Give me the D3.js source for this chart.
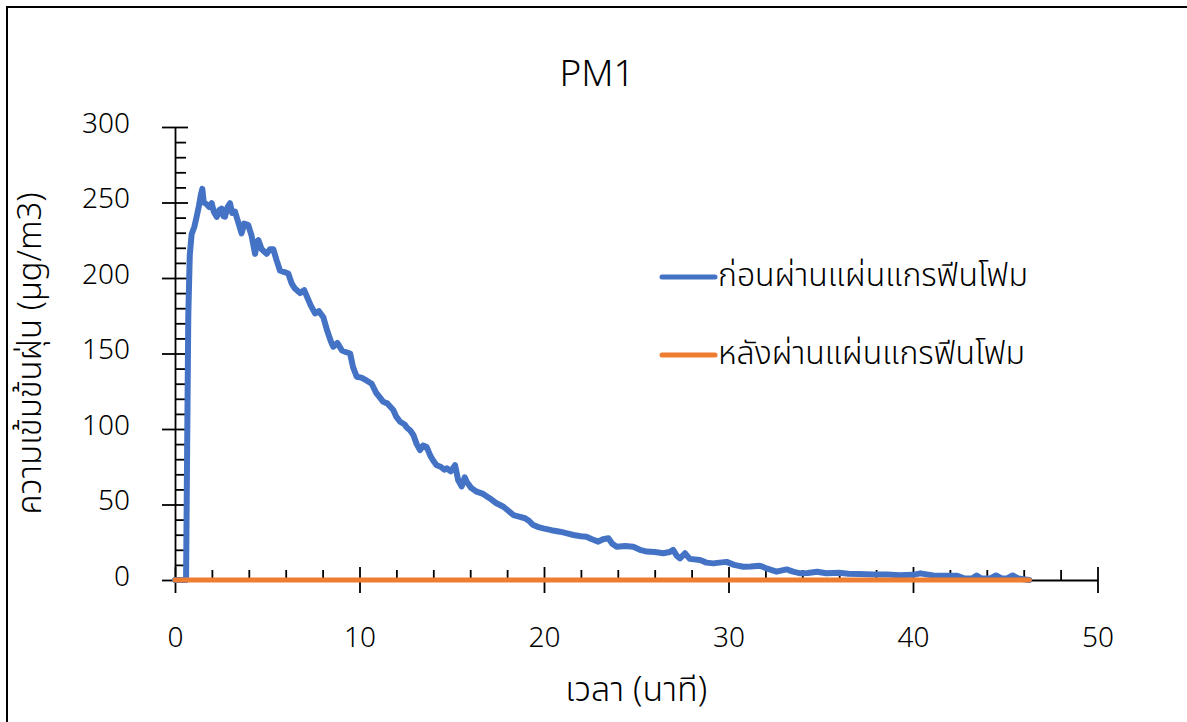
<!DOCTYPE html>
<html>
<head>
<meta charset="utf-8">
<script src="https://cdn.jsdelivr.net/npm/d3@7"></script>
<style>
  body { margin: 0; background: #fff; }
  svg text { font-family: "Leelawadee UI", Tahoma, "Noto Sans Thai", "Noto Sans", Roboto, sans-serif; fill: #000; }
</style>
</head>
<body>
<svg id="chart" width="1187" height="722"></svg>
<script>
// values
var chartTitle = 'PM1';
var xTitle = 'เวลา (นาที)';
var yTitle = 'ความเข้มข้นฝุ่น (µg/m3)';
var seriesNames = ['ก่อนผ่านแผ่นแกรฟีนโฟม', 'หลังผ่านแผ่นแกรฟีนโฟม'];

var xMajorTicks = [0, 10, 20, 30, 40, 50];
var yMajorTicks = [0, 50, 100, 150, 200, 250, 300];

// time (min) / concentration before foam
var beforeTime = [0, 0.6, 0.66, 0.72, 0.8, 0.9, 1.05, 1.18, 1.3, 1.4, 1.48, 1.56, 1.7, 1.85, 1.99, 2.1, 2.26, 2.4, 2.53, 2.62,
  2.71, 2.85, 2.98, 3.1, 3.25, 3.4, 3.61, 3.75, 3.97, 4.15, 4.34, 4.45, 4.52, 4.7, 4.97, 5.15, 5.33, 5.5, 5.69, 5.9,
  6.14, 6.32, 6.5, 6.78, 7.0, 7.14, 7.35, 7.59, 7.8, 8.04, 8.25, 8.45, 8.58, 8.8, 9.05, 9.25, 9.49, 9.65, 9.85, 10.1,
  10.4, 10.66, 10.9, 11.1, 11.29, 11.5, 11.83, 12.0, 12.2, 12.45, 12.56, 12.75, 12.92, 13.1, 13.28, 13.45, 13.64, 13.85, 14.0, 14.18,
  14.4, 14.6, 14.73, 14.95, 15.18, 15.35, 15.54, 15.7, 15.81, 16.05, 16.35, 16.7, 17.07, 17.4, 17.8, 18.05, 18.34, 18.65, 18.97, 19.2,
  19.42, 19.7, 19.96, 20.4, 20.87, 21.2, 21.6, 22.0, 22.3, 22.6, 22.94, 23.2, 23.49, 23.7, 23.94, 24.4, 24.84, 25.2, 25.57, 26.0,
  26.47, 26.8, 27.0, 27.2, 27.37, 27.64, 27.9, 28.46, 28.8, 29.18, 29.5, 29.9, 30.3, 30.8, 31.2, 31.7, 32.1, 32.6, 33.15, 33.5,
  33.9, 34.3, 34.8, 35.3, 36.0, 36.5, 37.1, 37.8, 38.6, 39.3, 40.0, 40.4, 41.1, 41.8, 42.4, 42.8, 43.2, 43.45, 43.7, 44.2,
  44.5, 44.8, 45.1, 45.4, 45.7, 46.3];
var beforeFoam = [0, 0, 90, 175, 215, 229, 234, 241, 248, 255, 259, 250, 249, 247, 249.5, 244, 240.5, 245, 246, 241,
  240.6, 247, 249.5, 243, 244, 238, 229.6, 236, 235, 228, 216, 224, 225, 219, 216, 219, 219, 212, 205, 204,
  203, 196.5, 193, 190, 192, 188, 182, 176.6, 178, 174, 165, 158, 154.5, 157, 152, 151, 150, 141, 134.6, 134,
  132, 130, 124, 121, 118, 117, 112.6, 108, 104.8, 103, 101, 99, 96, 90, 86, 89, 88, 82, 79, 76,
  75, 73, 74, 72, 76, 66, 62, 68, 65, 61, 58.5, 57, 54, 51, 48.5, 46, 43, 42, 40.9, 39,
  36.4, 35, 34.2, 33, 32, 31, 29.8, 29, 28.7, 27, 25.4, 27, 27.6, 24, 22, 22.5, 22, 20, 18.8, 18.5,
  17.7, 18.5, 19.9, 16, 14.4, 17.7, 14, 13.2, 11.5, 11, 11.5, 12, 10, 8.8, 9, 9.5, 7.5, 5.5, 7, 5.5,
  4.4, 4.6, 5.5, 4.5, 4.8, 4.2, 4, 3.6, 3.7, 3.2, 3.4, 4.4, 3, 2.8, 2.8, 1, 1, 3, 1, 1,
  3, 1, 1, 3, 1, 0];

// after foam: flat at zero over the whole run
var afterTime = [0, 46.3];
var afterFoam = [0, 0];

var seriesColors = ['#4472C4', '#ED7D31'];

//chart module
var lineChart = (function(){
    'use strict';
    var width = 1187,
        height = 722,
        plotLeft = 175,
        plotRight = 1097.5,
        plotTop = 127,
        plotBottom = 580;

    var x = d3.scaleLinear().domain([0, 50]).range([plotLeft, plotRight]);
    var y = d3.scaleLinear().domain([0, 300]).range([plotBottom, plotTop]);

    function range(a, b, step){
        return d3.range(a, b + step / 2, step);
    }

    function exports(svg){
        svg.selectAll('*').remove();

        //outer frame (only left and top edge are inside the picture)
        svg.append('path')
           .attr('d', 'M7,' + (height + 5) + 'V7H' + (width + 5))
           .attr('fill', 'none')
           .attr('stroke', '#000')
           .attr('stroke-width', 2);

        svg.append('text')
           .attr('x', 597).attr('y', 86)
           .attr('text-anchor', 'middle')
           .style('font-size', '37px')
           .style('font-weight', 300)
           .text(chartTitle);

        //x axis: minor ticks up, major ticks across
        var xMinor = svg.append('g')
           .attr('transform', 'translate(0,' + plotBottom + ')')
           .call(d3.axisBottom(x).tickValues(range(0, 50, 2).filter(v => v % 10)).tickSize(-10).tickFormat(''));
        xMinor.select('.domain').remove();

        var xAxis = svg.append('g')
           .attr('transform', 'translate(0,' + plotBottom + ')')
           .call(d3.axisBottom(x).tickValues(xMajorTicks).tickSizeInner(13).tickSizeOuter(0).tickPadding(34));
        xAxis.selectAll('.tick line').attr('y1', -13);
        xAxis.selectAll('.tick text').style('font-size', '28px').style('font-weight', 300);

        //y axis
        var yMinor = svg.append('g')
           .attr('transform', 'translate(' + plotLeft + ',0)')
           .call(d3.axisLeft(y).tickValues(range(0, 300, 10).filter(v => v % 50)).tickSize(-11).tickFormat(''));
        yMinor.select('.domain').remove();

        var yAxis = svg.append('g')
           .attr('transform', 'translate(' + plotLeft + ',0)')
           .call(d3.axisLeft(y).tickValues(yMajorTicks).tickSizeInner(13).tickSizeOuter(0).tickPadding(32));
        yAxis.selectAll('.tick line').attr('x1', 13);
        yAxis.selectAll('.tick text').style('font-size', '28px').style('font-weight', 300).attr('dy', '0.18em');

        svg.selectAll('.domain, .tick line').attr('stroke', '#000').attr('stroke-width', 1.8);

        //axis titles
        svg.append('text')
           .attr('x', (plotLeft + plotRight) / 2).attr('y', 701)
           .attr('text-anchor', 'middle')
           .style('font-size', '34px')
           .style('font-weight', 300)
           .text(xTitle);
        svg.append('text')
           .attr('transform', 'translate(41,' + (plotTop + plotBottom) / 2 + ') rotate(-90)')
           .attr('text-anchor', 'middle')
           .style('font-size', '33px')
           .style('font-weight', 300)
           .text(yTitle);

        //series lines
        var line = d3.line().x(d => x(d[0])).y(d => y(d[1]));
        var series = [
            d3.zip(beforeTime, beforeFoam),
            d3.zip(afterTime, afterFoam)
        ];
        svg.append('g').selectAll('path')
           .data(series)
           .enter()
           .append('path')
           .attr('d', line)
           .attr('fill', 'none')
           .attr('stroke', (d, i) => seriesColors[i])
           .attr('stroke-width', (d, i) => i ? 5 : 6)
           .attr('stroke-linejoin', 'round')
           .attr('stroke-linecap', 'round');

        //legend
        var legend = svg.append('g').selectAll('g')
           .data(seriesNames)
           .enter()
           .append('g')
           .attr('transform', (d, i) => 'translate(662,' + (277 + i * 78) + ')');
        legend.append('line')
           .attr('x1', 0).attr('x2', 53)
           .attr('stroke', (d, i) => seriesColors[i])
           .attr('stroke-width', 5)
           .attr('stroke-linecap', 'round');
        legend.append('text')
           .attr('x', 56).attr('y', 9)
           .style('font-size', '32px')
           .style('font-weight', 300)
           .text(d => d);
    }

    return exports;
})();

d3.select('#chart').call(lineChart);
</script>
</body>
</html>
